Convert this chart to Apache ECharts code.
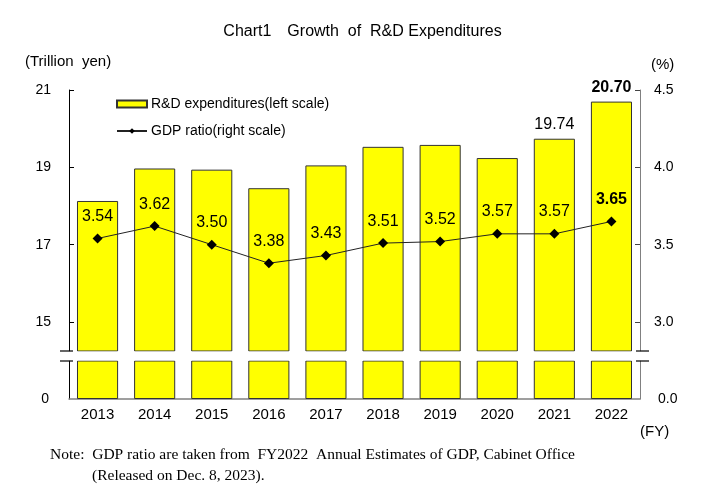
<!DOCTYPE html>
<html>
<head>
<meta charset="utf-8">
<script src="https://cdn.jsdelivr.net/npm/echarts@6/dist/echarts.min.js"></script>
<style>html,body{margin:0;padding:0;background:#fff}#c{width:725px;height:502px}</style>
</head>
<body>
<div id="c"></div>
<script>
const years = ['2013','2014','2015','2016','2017','2018','2019','2020','2021','2022'];
const rdValues = [18.13, 18.97, 18.94, 18.46, 19.05, 19.53, 19.58, 19.24, 19.74, 20.70];
const gdpRatio = [3.54, 3.62, 3.50, 3.38, 3.43, 3.51, 3.52, 3.57, 3.57, 3.65];
const leftTicks = [15, 17, 19, 21];
const rightTicks = [3.0, 3.5, 4.0, 4.5];

const chart = echarts.init(document.getElementById('c'), null, {renderer: 'canvas'});
const sans = 'Liberation Sans, Arial, sans-serif';
const serif = 'Liberation Serif, Times New Roman, serif';
const L = 69, R = 640, TOP = 90, BRK1 = 351, BRK2 = 361, BASE = 399;

const rdTop = rdValues.map((v, i) => ({
  value: v,
  label: {show: i >= 8, fontWeight: i === 9 ? 'bold' : 'normal'}
}));
const gdpData = gdpRatio.map((v, i) => ({
  value: v,
  label: {fontWeight: i === 9 ? 'bold' : 'normal'}
}));

const barStyle = {color: '#FFFF00', borderColor: '#333', borderWidth: 1};

const option = {
  animation: false,
  title: {
    text: 'Chart1\u3000Growth  of  R&D Expenditures',
    left: 'center', top: 19,
    textStyle: {fontFamily: sans, fontSize: 16, fontWeight: 'normal', color: '#000'}
  },
  legend: {
    left: 111, top: 92, orient: 'vertical', itemGap: 13,
    itemWidth: 30, itemHeight: 7,
    textStyle: {fontFamily: sans, fontSize: 14, color: '#000', padding: [0, 0, 0, -1]},
    data: [
      {name: 'R&D expenditures(left scale)', icon: 'rect'},
      {name: 'GDP ratio(right scale)'}
    ]
  },
  grid: [
    {left: L, right: 725 - R, top: TOP, bottom: 502 - BRK1},
    {left: L, right: 725 - R, top: BRK2, bottom: 502 - BASE}
  ],
  xAxis: [
    {type: 'category', gridIndex: 0, data: years, show: false},
    {type: 'category', gridIndex: 1, data: years,
     axisLine: {lineStyle: {color: '#808080', width: 1.5}},
     axisTick: {show: false},
     axisLabel: {fontFamily: sans, fontSize: 15, color: '#000', margin: 8}}
  ],
  yAxis: [
    {type: 'value', gridIndex: 0, min: 14.25, max: 21, splitLine: {show: false},
     axisLine: {show: true, lineStyle: {color: '#000'}},
     axisTick: {show: true, inside: true, length: 5, customValues: leftTicks, lineStyle: {color: '#000'}},
     axisLabel: {customValues: leftTicks, fontFamily: sans, fontSize: 14, color: '#000', margin: 18}},
    {type: 'value', gridIndex: 0, position: 'right', min: 2.8125, max: 4.5, splitLine: {show: false},
     axisLine: {show: true, lineStyle: {color: '#808080'}},
     axisTick: {show: true, inside: true, length: 5, customValues: rightTicks, lineStyle: {color: '#444'}},
     axisLabel: {customValues: rightTicks, formatter: v => v.toFixed(1), fontFamily: sans, fontSize: 14, color: '#000', margin: 14}},
    {type: 'value', gridIndex: 1, min: 0, max: 1, splitLine: {show: false},
     axisLine: {show: true, lineStyle: {color: '#000'}},
     axisTick: {show: false},
     axisLabel: {customValues: [0], fontFamily: sans, fontSize: 14, color: '#000', margin: 20}},
    {type: 'value', gridIndex: 1, position: 'right', min: 0, max: 1, splitLine: {show: false},
     axisLine: {show: true, lineStyle: {color: '#808080'}},
     axisTick: {show: false},
     axisLabel: {customValues: [0], formatter: v => v.toFixed(1), fontFamily: sans, fontSize: 14, color: '#000', margin: 18}}
  ],
  series: [
    {name: 'R&D expenditures(left scale)', type: 'bar', xAxisIndex: 0, yAxisIndex: 0,
     data: rdTop, barCategoryGap: '28%', itemStyle: barStyle, clip: true,
     label: {position: 'top', distance: 6, fontFamily: sans, fontSize: 16, color: '#000',
             formatter: p => p.value.toFixed(2)},
     z: 2},
    {name: 'R&D expenditures(left scale)', type: 'bar', xAxisIndex: 1, yAxisIndex: 2,
     data: rdValues, barCategoryGap: '28%', itemStyle: barStyle, clip: true, label: {show: false}, z: 2},
    {name: 'GDP ratio(right scale)', type: 'line', xAxisIndex: 0, yAxisIndex: 1,
     data: gdpData, symbol: 'diamond', symbolSize: 10,
     itemStyle: {color: '#000'}, lineStyle: {color: '#222', width: 1},
     label: {show: true, position: 'top', distance: 9, fontFamily: sans, fontSize: 16, color: '#000',
             formatter: p => p.value.toFixed(2)},
     z: 3}
  ],
  graphic: [
    {type: 'rect', z: 50, shape: {x: L - 2, y: BRK1 + 0.5, width: R - L + 6, height: BRK2 - BRK1 - 1}, style: {fill: '#fff'}},
    {type: 'line', z: 51, shape: {x1: 60, y1: BRK1, x2: 73, y2: BRK1}, style: {stroke: '#000', lineWidth: 1.2}},
    {type: 'line', z: 51, shape: {x1: 60, y1: BRK2, x2: 73, y2: BRK2}, style: {stroke: '#000', lineWidth: 1.2}},
    {type: 'line', z: 51, shape: {x1: 636, y1: BRK1, x2: 649, y2: BRK1}, style: {stroke: '#000', lineWidth: 1.2}},
    {type: 'line', z: 51, shape: {x1: 636, y1: BRK2, x2: 649, y2: BRK2}, style: {stroke: '#000', lineWidth: 1.2}},
    {type: 'text', left: 25, top: 54, style: {text: '(Trillion  yen)', font: '15px ' + sans, fill: '#000'}},
    {type: 'text', left: 651, top: 57, style: {text: '(%)', font: '15px ' + sans, fill: '#000'}},
    {type: 'text', left: 640, top: 424, style: {text: '(FY)', font: '15px ' + sans, fill: '#000'}},
    {type: 'text', left: 50, top: 447, style: {text: 'Note:  GDP ratio are taken from  FY2022  Annual Estimates of GDP, Cabinet Office', font: '15.5px ' + serif, fill: '#000'}},
    {type: 'text', left: 92, top: 468, style: {text: '(Released on Dec. 8, 2023).', font: '15.5px ' + serif, fill: '#000'}}
  ]
};
chart.setOption(option);
</script>
</body>
</html>
